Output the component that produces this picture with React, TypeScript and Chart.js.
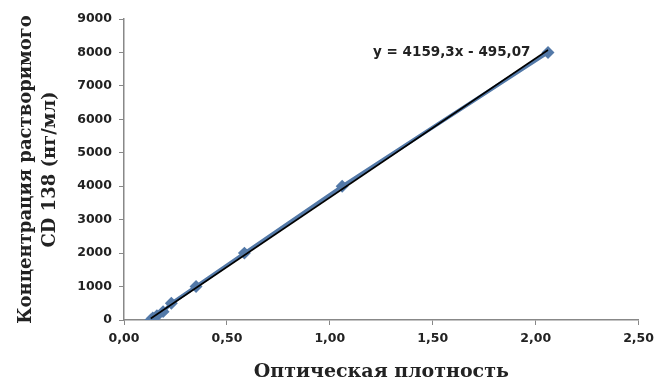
import React, { useEffect, useRef } from "react";
import { Chart, registerables } from "chart.js";

Chart.register(...registerables);

const opticalDensity = [0.13, 0.14, 0.16, 0.19, 0.23, 0.35, 0.585, 1.06, 2.06];
const concentration = [0, 62.5, 125, 250, 500, 1000, 2000, 4000, 8000];
const trendSlope = 4159.3;
const trendIntercept = -495.07;
const equationText = "y = 4159,3x - 495,07";
const xTitle = "Оптическая плотность";
const yTitle = ["Концентрация растворимого", "CD 138 (нг/мл)"];

const equationPlugin = {
  id: "equationLabel",
  afterDatasetsDraw(chart: any) {
    const { ctx, scales } = chart;
    const px = scales.x.getPixelForValue(1.975);
    const py = scales.y.getPixelForValue(8000);
    ctx.save();
    ctx.font = "bold 13.5px 'DejaVu Sans', sans-serif";
    ctx.fillStyle = "#222";
    ctx.textAlign = "right";
    ctx.textBaseline = "middle";
    ctx.fillText(equationText, px, py);
    ctx.restore();
  },
};

export default function App() {
  const ref = useRef<HTMLCanvasElement>(null);
  useEffect(() => {
    document.body.style.margin = "0";
    const xMin = Math.min(...opticalDensity);
    const xMax = Math.max(...opticalDensity);
    const trend = [xMin, xMax].map((x) => ({ x, y: trendSlope * x + trendIntercept }));
    const tickFont = { family: "'DejaVu Sans', sans-serif", size: 12.5, weight: "bold" };
    const chart = new Chart(ref.current!, {
      type: "scatter",
      data: {
        datasets: [
          {
            label: "trend",
            data: trend,
            showLine: true,
            borderColor: "#000",
            borderWidth: 1.6,
            pointRadius: 0,
            order: 0,
          },
          {
            label: "data",
            data: opticalDensity.map((x, i) => ({ x, y: concentration[i] })),
            showLine: true,
            borderColor: "#5379a8",
            backgroundColor: "#5379a8",
            borderWidth: 3.5,
            pointStyle: "rectRot",
            pointRadius: 4,
            order: 1,
          },
        ],
      },
      options: {
        animation: false,
        responsive: false,
        maintainAspectRatio: false,
        layout: { padding: { top: 19, right: 0, left: 0, bottom: 0 } },
        plugins: { legend: { display: false }, tooltip: { enabled: false } },
        scales: {
          x: {
            type: "linear",
            min: 0,
            max: 2.5,
            ticks: {
              stepSize: 0.5,
              color: "#222",
              font: tickFont,
              padding: 6,
              callback: (v: any) => Number(v).toFixed(2).replace(".", ","),
            },
            grid: { drawOnChartArea: false, drawTicks: true, tickLength: 5, color: "#888" },
            border: { display: true, color: "#888", width: 1.5 },
            title: {
              display: true,
              text: xTitle,
              color: "#222",
              font: { family: "'DejaVu Serif', serif", size: 19, weight: "bold" },
              padding: { top: 8, bottom: 0 },
            },
            afterFit: (s: any) => {
              s.height = 63;
            },
          },
          y: {
            min: 0,
            max: 9000,
            ticks: {
              stepSize: 1000,
              color: "#222",
              font: tickFont,
              padding: 7,
              callback: (v: any) => String(v),
            },
            grid: { drawOnChartArea: false, drawTicks: true, tickLength: 5, color: "#888" },
            border: { display: true, color: "#888", width: 1.5 },
            title: {
              display: true,
              text: yTitle,
              color: "#222",
              font: { family: "'DejaVu Serif', serif", size: 18, weight: "bold", lineHeight: 1.3 },
              padding: { top: 15, bottom: 0 },
            },
            afterFit: (s: any) => {
              s.width = 124;
            },
          },
        },
      },
      plugins: [equationPlugin],
    } as any);
    return () => chart.destroy();
  }, []);
  return (
    <div style={{ position: "fixed", left: 0, top: 0, width: 660, height: 383, background: "#fff" }}>
      <canvas ref={ref} width={660} height={383} />
    </div>
  );
}
